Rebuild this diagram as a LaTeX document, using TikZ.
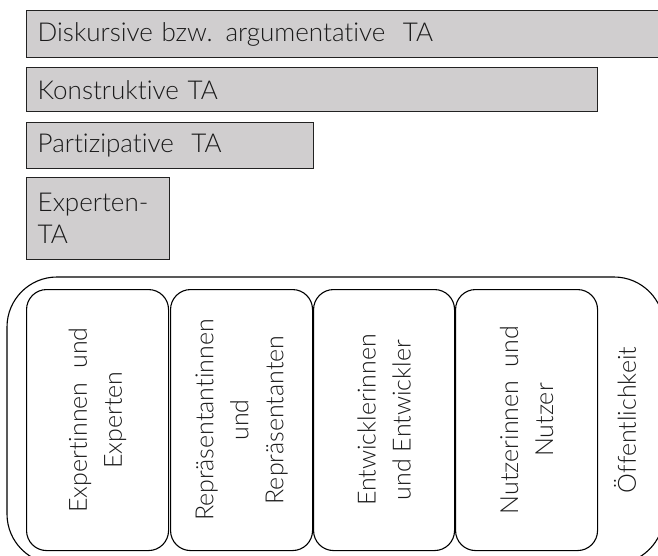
\documentclass[tikz,border=0pt]{standalone}
\usepackage{fontspec}
\IfFontExistsTF{Lato Light}{\setmainfont[Ligatures=NoCommon]{Lato Light}}{\setmainfont[Ligatures=NoCommon]{Lato}}
\definecolor{barfill}{HTML}{D0CECF}
\definecolor{barline}{HTML}{222222}
\definecolor{txt}{HTML}{1A1A1A}
\begin{document}
\begin{tikzpicture}[x=1pt,y=-1pt,
  bar/.style={draw=barline, line width=1.4pt, fill=barfill, anchor=north west,
    inner xsep=11pt, inner ysep=0pt, align=left, text=txt,
    font=\fontsize{26}{32}\selectfont},
  group/.style={draw=black, line width=1.1pt, rounded corners=20pt, anchor=north west,
    minimum width=142pt, minimum height=261pt},
  vlabel/.style={rotate=90, align=center, text=txt, font=\fontsize{25}{35}\selectfont, inner sep=0pt}
]
\useasboundingbox (0,0) rectangle (658,555);
\clip (0,0) rectangle (658,555);
% bars
\node[bar, minimum width=650pt, minimum height=47pt, text width=628pt] (b1) at (26,10) {Diskursive bzw. argumentative~ TA};
\node[bar, minimum width=571pt, minimum height=44pt, text width=549pt] (b2) at (26,67) {Konstruktive TA};
\node[bar, minimum width=287pt, minimum height=46pt, text width=265pt] (b3) at (26,122) {Partizipative~ TA};
\node[bar, minimum width=143pt, minimum height=82pt, text width=121pt] (b4) at (26,177) {Experten-\\TA};
% outer container
\draw[line width=1.1pt, rounded corners=50pt] (7,277) rectangle (664,564);
% groups
\node[group] (g1) at (26,289) {};
\node[group] (g2) at (170,289) {};
\node[group, minimum width=141pt] (g3) at (313,289) {};
\node[group] (g4) at (455,289) {};
\node[vlabel] (t1) at (g1.center) {Expertinnen~ und\\Experten};
\node[vlabel] (t2) at (g2.center) {Repräsentantinnen\\und\\Repräsentanten};
\node[vlabel] (t3) at (g3.center) {Entwicklerinnen\\und Entwickler};
\node[vlabel] (t4) at (g4.center) {Nutzerinnen~ und\\Nutzer};
\node[vlabel] (t5) at (625,420) {Öffentlichkeit};
\end{tikzpicture}
\end{document}
